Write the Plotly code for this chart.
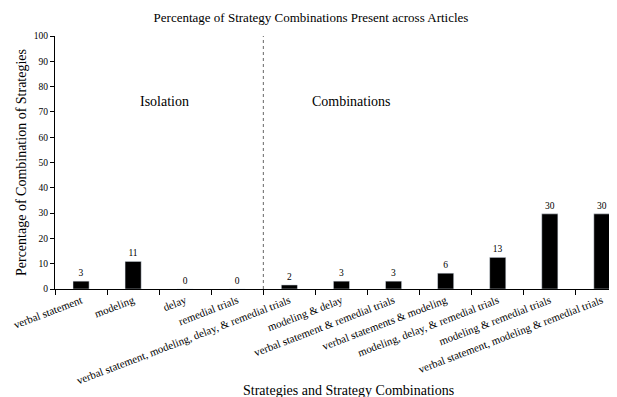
import plotly.graph_objects as go

categories = [
    "verbal statement", "modeling", "delay", "remedial trials",
    "verbal statement, modeling, delay, & remedial trials",
    "modeling & delay", "verbal statement & remedial trials",
    "verbal statements & modeling", "modeling, delay, & remedial trials",
    "modeling & remedial trials",
    "verbal statement, modeling & remedial trials",
]
values = [3.1, 10.9, 0, 0, 1.6, 3.1, 3.1, 6.25, 12.5, 29.7, 29.7]
labels = ["3", "11", "0", "0", "2", "3", "3", "6", "13", "30", "30"]
y_ticks = list(range(0, 101, 10))

FONT = "Liberation Serif"

# The page body has an 8px margin; size the figure so the plot lands where the reference has it
W, H = 609, 389
ML, MT, MB, MR = 47, 28, 108, 0
PW, PH = W - ML - MR, H - MT - MB

fig = go.Figure()
fig.add_trace(go.Bar(
    x=categories, y=values, text=labels, textposition="outside",
    textfont=dict(family=FONT, size=9.5, color="black"),
    marker=dict(color="black"), width=0.31, cliponaxis=False,
))

fig.add_shape(type="line", xref="x", yref="y", x0=3.5, x1=3.5, y0=0, y1=100,
              line=dict(color="#666", width=1, dash="dot"))

fig.add_annotation(text="Isolation", x=1.6, y=74, xref="x", yref="y",
                   showarrow=False, font=dict(family=FONT, size=14, color="black"))
fig.add_annotation(text="Combinations", x=5.2, y=74, xref="x", yref="y",
                   showarrow=False, font=dict(family=FONT, size=14, color="black"))
fig.add_annotation(text="Strategies and Strategy Combinations",
                   x=(340 - ML) / PW, y=-(382 - (MT + PH)) / PH,
                   xref="paper", yref="paper", showarrow=False,
                   xanchor="center", yanchor="middle",
                   font=dict(family=FONT, size=14, color="black"))

fig.update_layout(
    width=W, height=H,
    margin=dict(l=ML, r=MR, t=MT, b=MB),
    paper_bgcolor="white", plot_bgcolor="white",
    showlegend=False,
    title=dict(text="Percentage of Strategy Combinations Present across Articles",
               x=(311 - 8) / W, xanchor="center", y=1 - 9 / H, yanchor="middle",
               font=dict(family=FONT, size=13, color="black")),
    xaxis=dict(type="category", range=[-0.5, 10.29], tickson="boundaries",
               ticks="outside", ticklen=5, tickcolor="black", showline=True,
               linecolor="black", linewidth=1, showgrid=False, tickangle=-21,
               tickfont=dict(family=FONT, size=11, color="black"),
               automargin=False),
    yaxis=dict(range=[0, 100], tickvals=y_ticks, ticks="outside", ticklen=4,
               tickcolor="black", showline=True, linecolor="black", linewidth=1,
               showgrid=False, zeroline=False,
               tickfont=dict(family=FONT, size=9.5, color="black"),
               title=dict(text="Percentage of Combination of Strategies",
                          font=dict(family=FONT, size=14, color="black"), standoff=3),
               automargin=False),
)

fig.write_html("out.html")
